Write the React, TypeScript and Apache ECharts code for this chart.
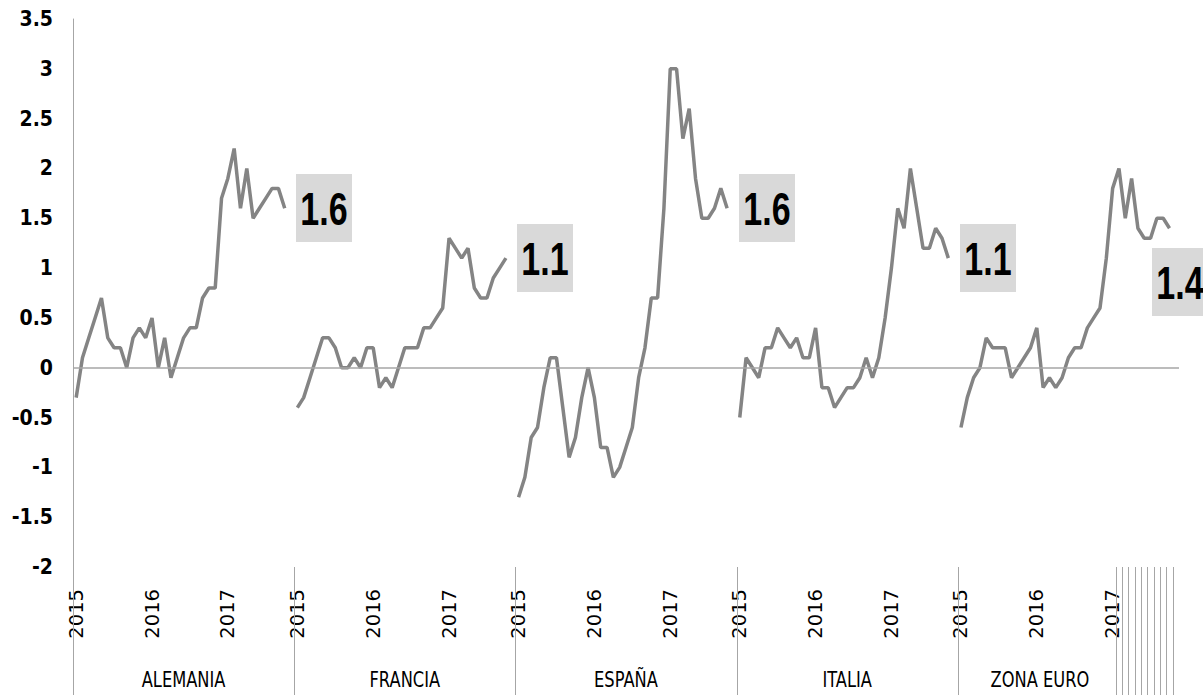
import React, { useEffect, useRef } from 'react';
import * as echarts from 'echarts';

// Groups (countries) and months shown for each of them
const groups = ['ALEMANIA', 'FRANCIA', 'ESPAÑA', 'ITALIA', 'ZONA EURO'];
const years = ['2015', '2016', '2017'];
const monthsPerYear = ['01', '02', '03', '04', '05', '06', '07', '08', '09', '10', '11', '12'];
const slotsPerGroup = 35; // Jan 2015 .. Nov 2017 (data up to Oct 2017)

// Inflation, % y/y, Jan 2015 .. Oct 2017
const alemania = [
  -0.3, 0.1, 0.3, 0.5, 0.7, 0.3, 0.2, 0.2, 0.0, 0.3, 0.4, 0.3,
  0.5, 0.0, 0.3, -0.1, 0.1, 0.3, 0.4, 0.4, 0.7, 0.8, 0.8, 1.7,
  1.9, 2.2, 1.6, 2.0, 1.5, 1.6, 1.7, 1.8, 1.8, 1.6,
];
const francia = [
  -0.4, -0.3, -0.1, 0.1, 0.3, 0.3, 0.2, 0.0, 0.0, 0.1, 0.0, 0.2,
  0.2, -0.2, -0.1, -0.2, 0.0, 0.2, 0.2, 0.2, 0.4, 0.4, 0.5, 0.6,
  1.3, 1.2, 1.1, 1.2, 0.8, 0.7, 0.7, 0.9, 1.0, 1.1,
];
const espana = [
  -1.3, -1.1, -0.7, -0.6, -0.2, 0.1, 0.1, -0.4, -0.9, -0.7, -0.3, 0.0,
  -0.3, -0.8, -0.8, -1.1, -1.0, -0.8, -0.6, -0.1, 0.2, 0.7, 0.7, 1.6,
  3.0, 3.0, 2.3, 2.6, 1.9, 1.5, 1.5, 1.6, 1.8, 1.6,
];
const italia = [
  -0.5, 0.1, 0.0, -0.1, 0.2, 0.2, 0.4, 0.3, 0.2, 0.3, 0.1, 0.1,
  0.4, -0.2, -0.2, -0.4, -0.3, -0.2, -0.2, -0.1, 0.1, -0.1, 0.1, 0.5,
  1.0, 1.6, 1.4, 2.0, 1.6, 1.2, 1.2, 1.4, 1.3, 1.1,
];
const zonaEuro = [
  -0.6, -0.3, -0.1, 0.0, 0.3, 0.2, 0.2, 0.2, -0.1, 0.0, 0.1, 0.2,
  0.4, -0.2, -0.1, -0.2, -0.1, 0.1, 0.2, 0.2, 0.4, 0.5, 0.6, 1.1,
  1.8, 2.0, 1.5, 1.9, 1.4, 1.3, 1.3, 1.5, 1.5, 1.4,
];
const seriesByGroup = [alemania, francia, espana, italia, zonaEuro];

// Y axis
const yMin = -2;
const yMax = 3.5;
const yStep = 0.5;

// Extra category separator lines visible under ZONA EURO 2017 (month slots)
const hatchSlots = [25, 26, 27, 28, 29, 30, 31, 32, 33, 34];
// Number of month slots each group-name label is centred over
const groupLabelSlots = [35, 35, 35, 35, 26];

const NARROW = "'DejaVu Sans Condensed', 'DejaVu Sans', sans-serif";
const WIDE = "'DejaVu Sans', Verdana, sans-serif";
const LABEL_FONT = "'Liberation Sans', Arial, sans-serif";
const GRAY_AXIS = '#a6a6a6';
const GRAY_LINE = '#848484';

export default function App() {
  const ref = useRef<HTMLDivElement>(null);

  useEffect(() => {
    if (!ref.current) return;
    const chart = echarts.init(ref.current, undefined, { renderer: 'svg' });

    const monthKeys: string[] = [];
    years.forEach((y) => monthsPerYear.forEach((m) => monthKeys.push(`${y}-${m}`)));
    const groupMonths = monthKeys.slice(0, slotsPerGroup);

    const categories: string[] = [];
    groups.forEach((g) => groupMonths.forEach((m) => categories.push(`${g}|${m}`)));

    const data: (number | null)[] = [];
    seriesByGroup.forEach((vals) => {
      for (let i = 0; i < slotsPerGroup; i++) data.push(i < vals.length ? vals[i] : null);
    });

    chart.setOption({
      animation: false,
      grid: { left: 73, top: 19, right: 24, bottom: 128, containLabel: false },
      xAxis: {
        type: 'category',
        data: categories,
        boundaryGap: true,
        position: 'bottom',
        axisLine: { show: false },
        axisTick: { show: false },
        splitLine: { show: false },
        axisLabel: {
          interval: 0,
          rotate: 90,
          margin: 22,
          fontSize: 19.5,
          fontFamily: WIDE,
          color: '#000',
          formatter: (val: string) => {
            const m = val.split('|')[1];
            return m.endsWith('-01') ? m.slice(0, 4) : '';
          },
        },
      },
      yAxis: {
        type: 'value',
        min: yMin,
        max: yMax,
        interval: yStep,
        axisLine: { show: true, lineStyle: { color: GRAY_AXIS, width: 1 } },
        axisTick: { show: false },
        splitLine: { show: false },
        axisLabel: {
          fontSize: 21,
          fontWeight: 'bold',
          fontFamily: NARROW,
          color: '#000',
          margin: 20,
        },
      },
      series: [
        {
          type: 'line',
          data,
          connectNulls: false,
          showSymbol: false,
          lineStyle: { color: GRAY_LINE, width: 3.5 },
          emphasis: { disabled: true },
          silent: true,
          markLine: {
            silent: true,
            symbol: 'none',
            label: { show: false },
            lineStyle: { color: GRAY_AXIS, width: 1.5, type: 'solid' },
            data: [{ yAxis: 0 }],
          },
          z: 3,
        },
      ],
    });

    // Category separators below the plot (group starts and ZONA EURO 2017 months)
    const px = (k: number) => chart.convertToPixel({ xAxisIndex: 0 }, categories[k]) as number;
    const band = px(1) - px(0);
    const leftEdge = (k: number) => px(k) - band / 2;
    const yBottom = chart.convertToPixel({ yAxisIndex: 0 }, yMin) as number;
    const sepIdx: number[] = [];
    groups.forEach((_, gi) => sepIdx.push(gi * slotsPerGroup));
    hatchSlots.forEach((s) => sepIdx.push((groups.length - 1) * slotsPerGroup + s));
    const graphics: any[] = sepIdx.map((k) => {
      const x = Math.round(leftEdge(k)) + 0.5;
      return {
        type: 'line',
        silent: true,
        shape: { x1: x, y1: Math.round(yBottom), x2: x, y2: 695 },
        style: { stroke: GRAY_AXIS, lineWidth: 1 },
        z: 1,
      };
    });

    // Group names under the year labels
    groups.forEach((g, gi) => {
      const start = leftEdge(gi * slotsPerGroup);
      const end = start + band * groupLabelSlots[gi];
      graphics.push({
        type: 'text',
        x: (start + end) / 2,
        y: 680,
        scaleX: 0.74,
        silent: true,
        style: {
          text: g,
          fontSize: 22,
          fontFamily: WIDE,
          fill: '#000',
          align: 'center',
          verticalAlign: 'middle',
        },
      });
    });

    // Last-value labels (grey boxes) next to the last point of each group
    const labelOffsets = [[39, 0], [39, 0], [40, 0], [40, 0], [10, 54]];
    seriesByGroup.forEach((vals, gi) => {
      const idx = gi * slotsPerGroup + vals.length - 1;
      const v = vals[vals.length - 1];
      const p = chart.convertToPixel({ xAxisIndex: 0, yAxisIndex: 0 }, [categories[idx], v]) as number[];
      graphics.push({
        type: 'group',
        x: Math.round(p[0] + labelOffsets[gi][0]),
        y: Math.round(p[1] + labelOffsets[gi][1]),
        silent: true,
        z: 10,
        children: [
          {
            type: 'rect',
            shape: { x: -28, y: -34, width: 56, height: 68 },
            style: { fill: '#d9d9d9' },
          },
          {
            type: 'text',
            x: 0,
            y: 1,
            scaleX: 0.74,
            style: {
              text: String(v),
              fontSize: 46,
              fontWeight: 'bold',
              fontFamily: LABEL_FONT,
              fill: '#000',
              align: 'center',
              verticalAlign: 'middle',
            },
          },
        ],
      });
    });

    chart.setOption({ graphic: graphics });

    return () => chart.dispose();
  }, []);

  return (
    <div
      ref={ref}
      style={{ position: 'fixed', left: 0, top: 0, width: 1203, height: 695, background: '#fff' }}
    />
  );
}
